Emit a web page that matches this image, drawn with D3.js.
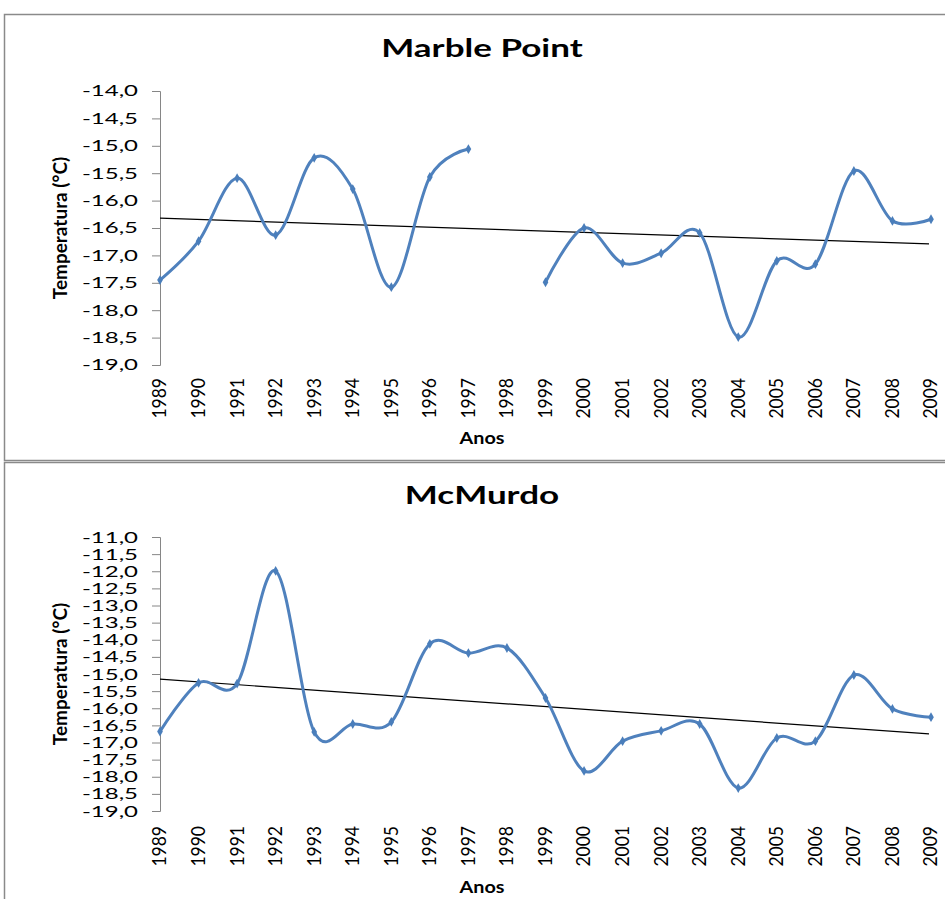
<!DOCTYPE html>
<html>
<head>
<meta charset="utf-8">
<script src="https://cdn.jsdelivr.net/npm/d3@7"></script>
<style>
  body { margin: 0; background: #fff; }
  svg { display: block; }
</style>
</head>
<body>
<svg width="945" height="899"></svg>
<script>
// years on the category axis
const years = ["1989","1990","1991","1992","1993","1994","1995","1996","1997","1998","1999",
               "2000","2001","2002","2003","2004","2005","2006","2007","2008","2009"];

// Marble Point, 1998 missing
const marbleTemps = [-17.45, -16.74, -15.59, -16.63, -15.22, -15.79, -17.58, -15.57, -15.06, null, -17.49,
                     -16.50, -17.14, -16.96, -16.59, -18.49, -17.10, -17.16, -15.46, -16.37, -16.34];
const marbleTrend = [-16.32, -16.79];   // linear trend at 1989 and 2009
const marbleTicks = [-14.0, -14.5, -15.0, -15.5, -16.0, -16.5, -17.0, -17.5, -18.0, -18.5, -19.0];

// McMurdo
const mcmurdoTemps = [-16.68, -15.26, -15.28, -11.99, -16.69, -16.46, -16.40, -14.12, -14.39, -14.24, -15.70,
                      -17.83, -16.96, -16.66, -16.46, -18.33, -16.87, -16.96, -15.03, -16.02, -16.26];
const mcmurdoTrend = [-15.15, -16.75];
const mcmurdoTicks = [-11.0, -11.5, -12.0, -12.5, -13.0, -13.5, -14.0, -14.5, -15.0, -15.5, -16.0,
                      -16.5, -17.0, -17.5, -18.0, -18.5, -19.0];

const FONT = "Lato, 'Liberation Sans', sans-serif";
const fmt = v => d3.format(".1f")(v).replace(".", ",").replace("−", "-");

const svg = d3.select("svg");

// the source picture is stretched sideways, so horizontal text gets a scaleX
function stretch(sel, x, y, sx, extra) {
    sel.attr("transform", "translate(" + x + "," + y + ") scale(" + sx + ",1)" + (extra || ""));
}

function drawChart(cfg) {
    // frame
    svg.append("rect")
        .attr("x", 4.5).attr("y", cfg.top + 0.5)
        .attr("width", 960).attr("height", cfg.frameH)
        .style("fill", "none")
        .style("stroke", "#8a8a8a")
        .style("stroke-width", 1.5);

    const xScale = d3.scalePoint().domain(years).range([160, 931]);
    const yScale = d3.scaleLinear().domain([cfg.ticks[0], cfg.ticks[cfg.ticks.length - 1]]).range([cfg.y0, cfg.y1]);

    // title
    svg.append("text")
        .attr("text-anchor", "middle")
        .style("font-family", FONT)
        .style("font-weight", "bold")
        .style("font-size", "25px")
        .text(cfg.title)
        .call(stretch, 482, cfg.titleY, 1.4);

    // y axis
    const yAxis = svg.append("g")
        .attr("transform", "translate(160,0)")
        .call(d3.axisLeft(yScale).tickValues(cfg.ticks).tickSize(8).tickPadding(14).tickFormat(fmt));
    yAxis.select(".domain").style("stroke", "#868686");
    yAxis.selectAll(".tick line").style("stroke", "#868686");
    yAxis.selectAll(".tick text")
        .style("font-family", FONT)
        .style("font-size", cfg.tickFont + "px")
        .style("fill", "#000")
        .each(function() {
            const t = d3.select(this);
            const x = +t.attr("x");
            t.attr("x", 0).call(stretch, x, 0, cfg.tickSX);
        });

    // x labels
    svg.append("g").selectAll("text")
        .data(years)
        .join("text")
        .attr("text-anchor", "end")
        .attr("dy", "0.35em")
        .style("font-family", FONT)
        .style("font-size", "17.5px")
        .text(d => d)
        .each(function(d) {
            d3.select(this).call(stretch, xScale(d), cfg.xLabelY, 1.05, " rotate(-90)");
        });

    // axis titles
    svg.append("text")
        .attr("text-anchor", "middle")
        .style("font-family", FONT)
        .style("font-weight", "bold")
        .style("font-size", "16.5px")
        .text("Anos")
        .call(stretch, 482, cfg.anosY, 1.2);

    svg.append("text")
        .attr("text-anchor", "middle")
        .attr("dy", "0.35em")
        .style("font-family", FONT)
        .style("font-weight", "bold")
        .style("font-size", "19px")
        .text("Temperatura (°C)")
        .call(stretch, 60, cfg.ytitleY, 1, " rotate(-90)");

    const data = years.map((y, i) => ({year: y, value: cfg.values[i]}));

    // trend line
    svg.append("line")
        .attr("x1", xScale(years[0])).attr("y1", yScale(cfg.trend[0]))
        .attr("x2", xScale(years[years.length - 1]) - 2).attr("y2", yScale(cfg.trend[1]))
        .style("stroke", "#000")
        .style("stroke-width", 1.2);

    // smoothed series
    const line = d3.line()
        .defined(d => d.value != null)
        .x(d => xScale(d.year))
        .y(d => yScale(d.value))
        .curve(d3.curveCardinal.tension(0));

    svg.append("path")
        .datum(data)
        .attr("d", line)
        .style("fill", "none")
        .style("stroke", "#4F81BD")
        .style("stroke-width", 3);

    svg.append("g").selectAll("path")
        .data(data.filter(d => d.value != null))
        .join("path")
        .attr("d", d3.symbol(d3.symbolDiamond, 28))
        .attr("transform", d => "translate(" + xScale(d.year) + "," + yScale(d.value) + ")")
        .style("fill", "#4A7EBB");
}

drawChart({
    title: "Marble Point", top: 14, frameH: 446, titleY: 57,
    values: marbleTemps, trend: marbleTrend, ticks: marbleTicks,
    y0: 91, y1: 365, xLabelY: 378, anosY: 444, ytitleY: 228,
    tickFont: 15, tickSX: 1.6
});

drawChart({
    title: "McMurdo", top: 462, frameH: 460, titleY: 504,
    values: mcmurdoTemps, trend: mcmurdoTrend, ticks: mcmurdoTicks,
    y0: 537, y1: 811, xLabelY: 826, anosY: 893, ytitleY: 674,
    tickFont: 16, tickSX: 1.5
});
</script>
</body>
</html>
